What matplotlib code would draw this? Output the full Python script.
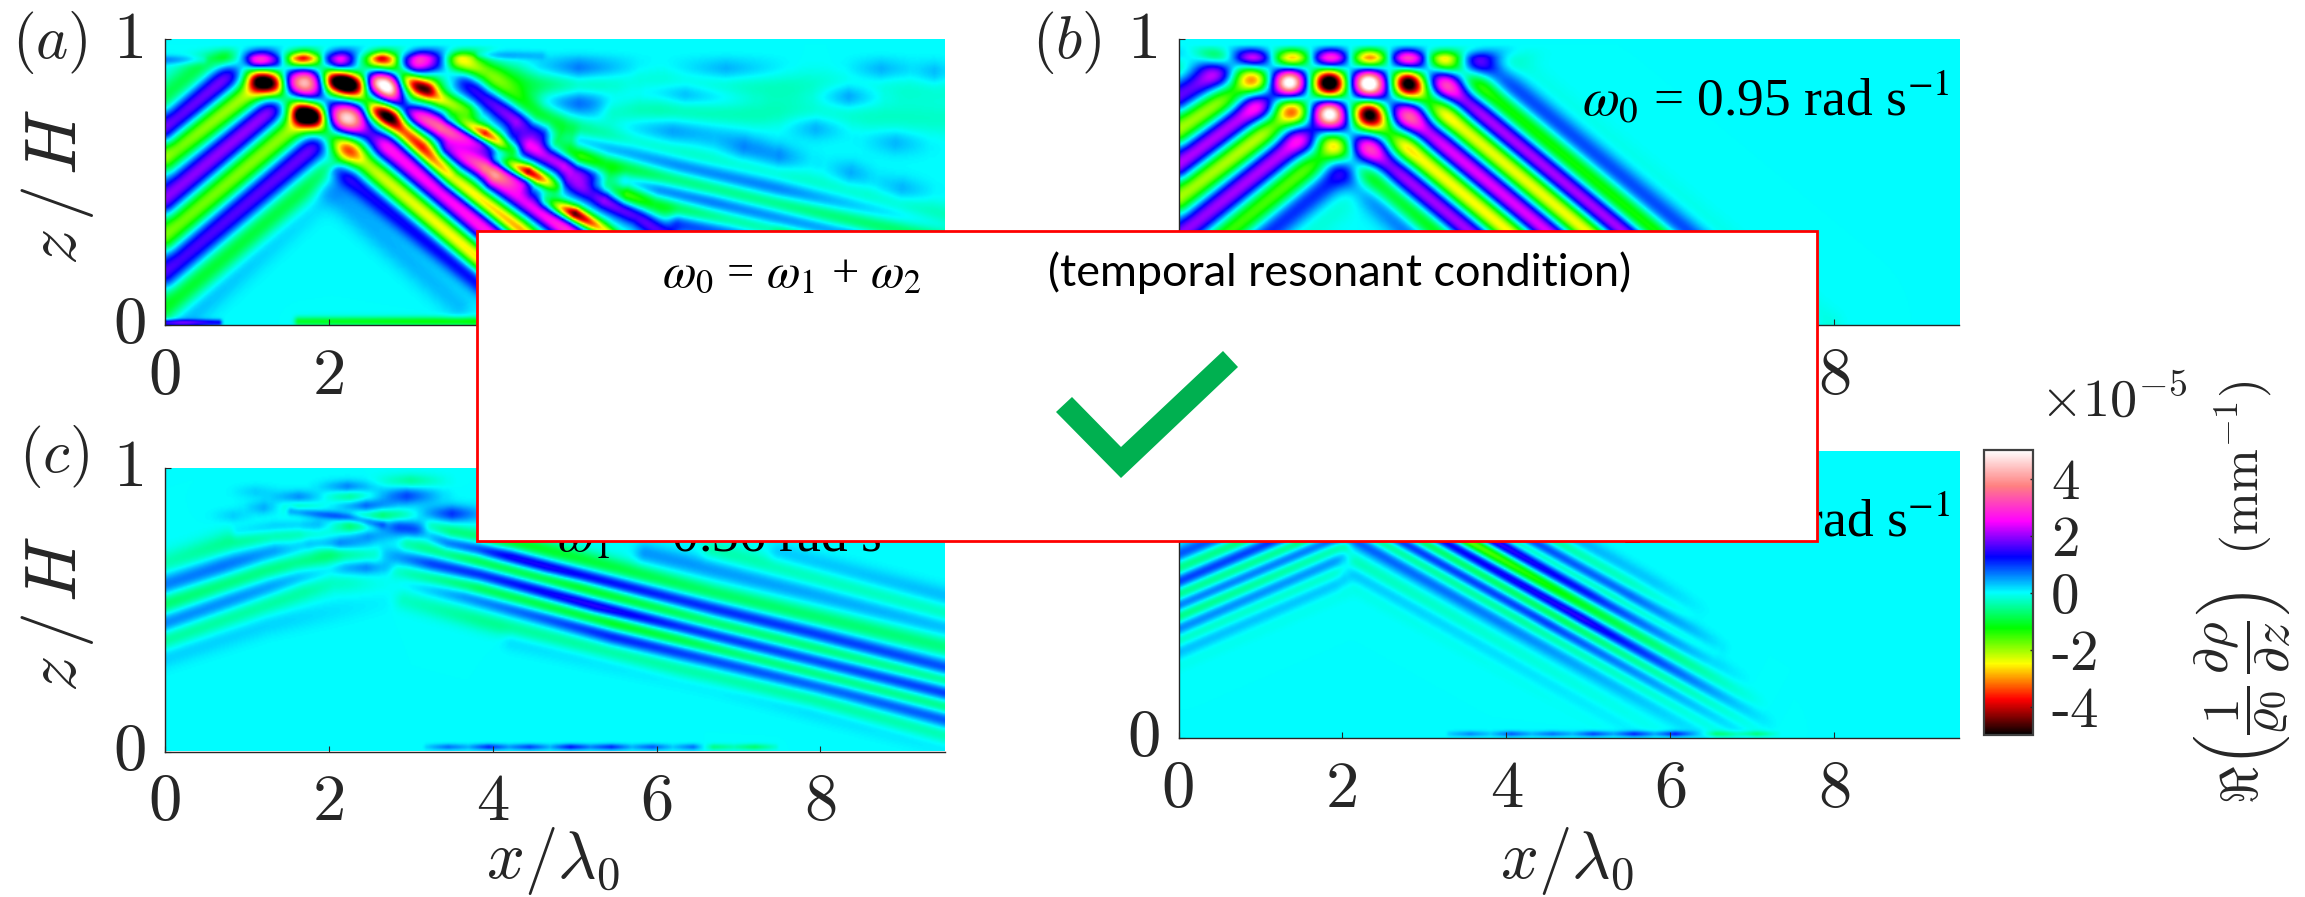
import numpy as np
import matplotlib
matplotlib.use("Agg")
import matplotlib.pyplot as plt
from matplotlib.colors import LinearSegmentedColormap
from matplotlib.patches import Rectangle, Polygon
from matplotlib.transforms import ScaledTranslation


def cell(sigma, x0, x1, z0, z1, amp):
    return (sigma, [(x0, z0, .15 * amp), ((x0 + x1) / 2, (z0 + z1) / 2, amp), (x1, z1, .15 * amp)])


# ------------------------------------------------------------------ data
# Each field is described by stripes:
# (sigma, [(x/lambda0, z/H, amplitude in 1e-5 mm^-1), ...])
XTICKS = [0, 2, 4, 6, 8]
YTICKS = [0, 1]
XTICKLABELS = ["0", "2", "4", "6", "8"]
YTICKLABELS = ["0", "1"]
CBAR_TICKS = [-4, -2, 0, 2, 4]
CBAR_TICKLABELS = ["-4", "-2", "0", "2", "4"]
XMAX = 9.52
VMIN, VMAX = -5, 5
CMAP_COLORS = ["#000000", "#ff0000", "#ffff00", "#00ff00", "#00ffff",
               "#0000ff", "#ff00ff", "#ff8080", "#ffffff"]

PANEL_A = [
    # rising family
    (10, [(0, .79, -1.0), (.86, 1, -1.0)]),
    (10, [(0, .685, 2.0), (1.29, 1, 2.0)]),
    (10, [(0, .592, -2.0), (1.24, .86, -2.2), (1.85, 1, -2.2)]),
    (10, [(0, .44, 1.9), (2.30, 1, 2.2)]),
    (10, [(0, .312, -1.8), (2.82, 1, -2.2)]),
    (10, [(0, .184, 1.6), (3.35, 1, 2.0)]),
    (10, [(0, .056, -1.2), (3.87, 1, -1.3)]),
    (10, [(0, -.026, .5), (2.0, .5, .5), (4.21, 1, .2)]),
    # falling family
    (7, [(2.07, .569, .6), (2.11, .545, 1.3), (3.78, .161, 1.4), (4.47, 0, 1.4)]),
    (8, [(.77, .942, -1.2), (1.24, .848, -2.4), (1.73, .734, -2.6), (2.20, .621, -2.6),
         (2.44, .569, -2.2), (3.78, .242, -2.6), (4.80, 0, -2.6)]),
    (9, [(1.22, .924, 1.8), (1.69, .848, 2.4), (2.20, .726, 2.8), (2.60, .65, 2.5),
         (3.86, .347, 2.7), (5.28, 0, 2.7)]),
    (7, [(1.71, .936, -2.2), (2.17, .848, -2.6), (2.66, .741, -3.2), (3.13, .621, -3.8),
         (3.50, .51, -2.8), (4.31, .336, -3.0), (5.69, 0, -3.0)]),
    (7, [(2.17, .924, 1.8), (2.66, .843, 2.4), (2.93, .755, 2.4), (3.37, .691, 3.4),
         (3.86, .639, 2.3), (4.07, .61, .8)]),
    (6, [(2.66, .936, -2.2), (3.09, .837, -2.6), (3.37, .79, -2.4), (3.70, .749, -1.5),
         (3.86, .726, -.3)]),
    (8, [(3.13, .93, 1.7), (3.58, .883, 1.7), (3.90, .802, 1.8), (4.31, .72, 2.5),
         (4.63, .674, 1.8), (4.80, .65, .3)]),
    (9, [(3.60, .93, -1.5), (3.90, .872, -1.1), (4.53, .726, -1.9), (4.88, .685, -1.1),
         (5.69, .615, -.8), (7.32, .51, -.6), (9.52, .37, -.5)]),
    (5, [(3.50, .72, -1.2), (3.90, .668, -4.6), (4.23, .615, -1.6)]),
    (7, [(3.46, .615, 1.8), (3.90, .551, 3.4), (4.39, .499, 2.0), (4.51, .481, .5)]),
    (5, [(4.07, .575, -1.2), (4.43, .534, -4.8), (4.76, .487, -1.6)]),
    (5, [(4.67, .429, -1.2), (5.0, .388, -4.6), (5.33, .336, -2.5), (5.89, .208, -2.5)]),
    (7, [(4.02, .499, 1.8), (4.88, .336, 2.8), (6.1, .068, 2.8)]),
    (7, [(4.27, .65, 1.0), (4.43, .627, 2.2), (4.88, .563, 2.8), (5.24, .522, 1.6), (5.41, .505, .3)]),
    (7, [(4.94, .499, 1.4), (5.37, .441, 2.8), (5.77, .382, 1.8), (6.1, .312, 1.5)]),
    (8, [(4.76, .621, -1.2), (5.06, .58, -2.2), (5.37, .557, -1.3), (6.10, .51, -1.0),
         (7.32, .429, -.9), (9.52, .289, -.9)]),
    (8, [(5.28, .476, -1.2), (5.63, .452, -2.3), (5.98, .423, -1.3), (6.91, .365, -1.0), (8.13, .277, -1.0)]),
    (7, [(4.96, .65, .5), (5.06, .645, 1.2), (6.28, .557, 1.3), (7.5, .476, 1.2), (9.52, .347, .4)]),
    (7, [(5.63, .499, 1.2), (6.69, .429, 1.3), (7.91, .347, 1.0), (9.52, .242, .7)]),
    (7, [(6.28, .359, 1.2), (7.32, .301, 1.0)]),
    # cells where the two families reinforce
    (7, [(1.14, .85, -1.6), (1.34, .85, -1.6)]),
    (7, [(2.05, .85, -2.0), (2.35, .85, -2.0)]),
    (7, [(1.67, .735, -2.0), (1.83, .735, -2.0)]),
    (6, [(2.55, .745, -1.2), (2.8, .735, -1.2)]),
    (6, [(2.95, .85, -1.0), (3.2, .83, -1.0)]),
    (6, [(2.6, .85, 1.0), (2.75, .83, 1.0)]),
    (5, [(1.1, .925, 1.2), (1.34, .925, 1.2)]),
    (4, [(1.58, .935, -1.2), (1.84, .935, -1.2)]),
    (4, [(2.55, .935, -.8), (2.78, .935, -.8)]),
    # faint patches at upper right
    cell(9, 4.3, 5.8, .895, .895, .85),
    cell(9, 4.3, 5.8, .784, .784, .85),
    cell(8, 6.1, 7.6, .895, .895, .45),
    cell(8, 8.3, 9.2, .895, .895, .4),
    cell(8, 5.5, 7.2, .83, .785, .65),
    cell(8, 7.9, 8.8, .802, .802, .65),
    cell(9, 5.2, 7.2, .715, .655, .55),
    cell(8, 7.5, 8.4, .70, .69, .5),
    cell(8, 6.7, 7.45, .63, .61, .45),
    cell(8, 7.1, 7.9, .605, .575, .5),
    cell(8, 8.05, 8.7, .55, .51, .4),
    cell(8, 8.6, 9.4, .49, .455, .4),
    cell(8, 8.5, 9.35, .65, .63, .35),
    cell(8, 9.1, 9.7, .883, .883, .35),
    (10, [(3.66, .907, -1.0), (4.55, .843, -.9), (5.69, .843, -.4), (9.52, .825, -.2)]),
    (10, [(5.49, .75, -.55), (7.72, .738, -.3), (9.52, .72, -.25)]),
    (3, [(3.84, .948, .9), (4.59, .948, .4)]),
    (3, [(0, .93, .7), (.45, .93, .5)]),
    (9, [(1.99, .476, .4), (3.58, .068, .3)]),
    (2, [(0, .006, 1.6), (.65, .006, 1.2)]),
    (3, [(1.63, .01, -1.0), (3.78, .01, -1.2)]),
]

PANEL_B = [
    # rising family
    (9, [(0, .907, -.5), (.49, 1, -.5)]),
    (9, [(0, .802, 1.7), (1.14, 1, 1.7)]),
    (9, [(0, .685, -2.0), (1.61, 1, -2.0)]),
    (9, [(0, .563, 2.1), (2.04, 1, 2.4)]),
    (9, [(0, .446, -2.0), (2.52, 1, -2.5)]),
    (9, [(0, .312, 1.9), (2.99, 1, 2.5)]),
    (9, [(0, .184, -1.4), (3.48, 1, -2.1)]),
    (9, [(0, .068, 1.0), (3.93, 1, 1.2)]),
    (9, [(0, -.049, -.2), (4.37, 1, -.2)]),
    # falling family
    (9, [(-.11, 1, .6), (2.0, .55, 1.0), (4.09, 0, 1.0)]),
    (9, [(.29, 1, -1.6), (4.50, 0, -1.7)]),
    (9, [(.70, 1, 2.2), (4.91, 0, 2.3)]),
    (9, [(1.19, 1, -2.5), (5.39, 0, -2.7)]),
    (9, [(1.66, 1, 2.5), (5.86, 0, 2.5)]),
    (9, [(2.15, 1, -2.5), (6.35, 0, -2.7)]),
    (9, [(2.59, 1, 2.5), (6.80, 0, 2.5)]),
    (9, [(2.96, 1, -1.8), (7.16, 0, -1.9)]),
    (9, [(3.33, 1, 1.1), (7.53, 0, 1.1)]),
    (9, [(3.7, 1, -.15), (7.9, 0, -.15)]),
    # cells where the two families reinforce
    (7, [(1.34, .85, 1.1), (1.34, .849, 1.1)]),
    (7, [(2.30, .85, 1.1), (2.30, .849, 1.1)]),
    (7, [(1.83, .75, 1.1), (1.83, .749, 1.1)]),
    (7, [(1.83, .85, -1.2), (1.83, .849, -1.2)]),
    (7, [(2.78, .85, -1.2), (2.78, .849, -1.2)]),
    (7, [(2.32, .75, -1.2), (2.32, .749, -1.2)]),
]

PANEL_C = [
    (5, [(2.52, .806, .3), (2.85, .791, .8), (3.13, .777, .8), (3.46, .736, 1.1), (3.84, .714, 1.35),
         (4.65, .649, 1.5), (6.28, .532, 1.1), (7.91, .414, .95), (9.52, .291, .85)]),
    (5, [(2.72, .692, .3), (3.25, .66, .9), (3.84, .624, 1.1), (5.26, .508, 1.5),
         (6.28, .438, 1.15), (7.91, .32, .95), (9.52, .203, .95)]),
    (5, [(2.97, .589, .1), (3.66, .548, .6), (5.47, .403, 1.1), (6.69, .32, .95),
         (8.31, .203, .85), (9.52, .109, .8)]),
    (5, [(2.97, .728, -.4), (3.84, .667, -1.0), (5.06, .579, -1.2), (6.69, .45, -.85), (9.52, .25, -.65)]),
    (5, [(2.85, .636, -.3), (3.84, .572, -.9), (5.47, .45, -1.25), (7.09, .332, -.85), (9.52, .156, -.65)]),
    (6, [(3.25, .777, -.8), (3.82, .742, -.9), (4.25, .736, -1.0), (6.69, .555, -.7), (9.52, .367, -.55)]),
    (6, [(5.87, .696, .45), (7.91, .555, .4), (9.52, .438, .35)]),
    (6, [(6.69, .708, -.35), (9.52, .485, -.35)]),
    (6, [(7.5, .696, .25), (9.52, .543, .3)]),
    (6, [(2.93, .531, -.25), (3.84, .461, -.45), (6.28, .285, -.55), (7.91, .18, -.55), (9.52, .05, -.5)]),
    (6, [(4.25, .391, .2), (6.69, .238, .25), (9.52, .027, .25)]),
    # cells under the surface
    cell(4, 1.85, 2.6, .93, .93, .6),
    cell(5, 2.5, 3.4, .90, .90, .8),
    cell(4, 1.25, 2.0, .894, .894, .55),
    cell(4, .8, 1.4, .915, .915, .2),
    cell(4, 2.05, 2.85, .865, .865, .7),
    cell(4, .95, 1.45, .859, .859, .35),
    cell(5, 3.05, 3.95, .836, .836, .9),
    cell(4, .55, 1.1, .83, .83, .2),
    (2.6, [(1.54, .847, .5), (2.24, .824, .8), (2.64, .80, .5)]),
    (4, [(.89, .771, .3), (1.34, .789, .45), (1.87, .795, .6), (2.1, .795, .2)]),
    cell(4, 2.1, 2.85, .759, .759, .45),
    cell(4, 1.65, 2.6, .733, .726, .7),
    cell(4, 2.05, 2.85, .648, .648, .45),
    cell(4, 1.85, 2.65, .90, .90, -.55),
    cell(4, 1.3, 1.95, .865, .865, -.4),
    cell(4, 2.2, 3.1, .83, .83, -.8),
    cell(4, 1.8, 2.7, .791, .791, -.6),
    cell(4, 2.55, 3.45, .953, .953, -.45),
    # rising stripes
    (7, [(0, .583, .65), (.69, .648, .7), (1.34, .707, .6), (1.7, .72, .3)]),
    (7, [(0, .448, .7), (.81, .531, .7), (1.63, .613, .6), (2.2, .642, .45), (2.64, .642, .1)]),
    (7, [(0, .66, -.35), (.81, .736, -.5), (1.63, .771, -.55), (2.0, .775, -.1)]),
    (7, [(0, .519, -.75), (1.22, .636, -.7), (2.03, .689, -.7), (2.52, .689, -.3)]),
    (7, [(0, .396, -.6), (1.02, .501, -.55), (2.03, .607, -.5), (2.6, .601, -.1)]),
    (7, [(0, .337, .25), (1.22, .448, .2), (2.64, .525, .05)]),
    (1.8, [(3.2, .012, .2), (3.45, .012, .6), (3.7, .012, .3), (3.95, .012, .9), (4.2, .012, .4),
           (4.45, .012, .8), (4.7, .012, .3), (4.95, .012, 1.0), (5.2, .012, .5), (5.45, .012, .9),
           (5.7, .012, .3), (5.95, .012, .7), (6.2, .012, .2), (6.45, .012, .6), (6.7, .012, -.5),
           (6.95, .012, -.3), (7.2, .012, -.6), (7.45, .012, -.2)]),
]

PANEL_D = [
    (5, [(1.92, .724, .8), (4.0, .391, .6), (6.45, 0, .1)]),
    (5, [(2.23, .724, -.8), (4.2, .409, -.8), (6.76, 0, -.1)]),
    (5, [(2.45, .724, 1.3), (4.5, .396, 1.3), (6.9, .012, .1)]),
    (5, [(2.72, .724, -1.2), (4.7, .407, -1.3), (7.1, .023, -.05)]),
    (5, [(2.96, .724, 1.5), (4.9, .414, 1.7), (6.8, .11, .3), (7.3, .03, 0)]),
    (5, [(3.29, .724, -1.9), (4.6, .514, -1.4), (6.6, .194, -.3), (7.2, .098, 0)]),
    (5, [(3.61, .724, 1.9), (5.0, .502, 1.4), (6.5, .262, .2), (7.0, .182, 0)]),
    (5, [(3.84, .724, -1.2), (5.3, .49, -1.0), (6.5, .298, -.1)]),
    (5, [(4.04, .724, 1.3), (5.5, .49, 1.0), (6.6, .314, .1)]),
    (5, [(4.32, .724, -.6), (5.5, .535, -.4), (6.3, .407, 0)]),
    (5, [(4.63, .724, .4), (5.8, .537, .25), (6.5, .425, 0)]),
    (5, [(2.05, .626, -.35), (5.9, .01, -.05)]),
    (5, [(2.05, .583, .3), (5.7, 0, .05)]),
    (5, [(2.05, .538, -.12), (5.4, 0, -.02)]),
    # rising stripes
    (5, [(0, .638, .8), (.52, .70, .8)]),
    (5, [(0, .591, -.7), (.90, .70, -.7)]),
    (5, [(0, .545, 1.0), (1.28, .70, 1.0)]),
    (5, [(0, .498, -.8), (1.65, .70, -.8)]),
    (5, [(0, .463, .9), (1.94, .70, .9)]),
    (5, [(0, .423, -.8), (1.99, .668, -.6)]),
    (5, [(0, .382, .7), (1.99, .627, .6)]),
    (5, [(0, .341, -.4), (1.99, .587, -.35)]),
    (5, [(0, .301, .35), (1.99, .546, .3)]),
    (5, [(0, .26, -.1), (1.99, .505, -.1)]),
    (1.8, [(3.3, .012, .2), (3.55, .012, .5), (3.8, .012, .2), (4.05, .012, .7), (4.3, .012, .3),
           (4.55, .012, .6), (4.8, .012, .3), (5.05, .012, .8), (5.3, .012, .4), (5.55, .012, .9),
           (5.8, .012, .4), (6.05, .012, 1.0), (6.3, .012, .2), (6.55, .012, -.5), (6.8, .012, -.3),
           (7.05, .012, -.5), (7.3, .012, -.1)]),
]

TOP_FADE_Z = [.90, .936, .965, .983]
TOP_FADE_F = [1.0, .8, .25, 0.0]

# ------------------------------------------------------------------ layout
W, H = 2305, 897
plt.rcParams["mathtext.fontset"] = "cm"
plt.rcParams["font.family"] = ["cmr10", "DejaVu Sans"]
plt.rcParams["axes.formatter.use_mathtext"] = True
DARK = "#262626"

fig = plt.figure(figsize=(W / 100, H / 100), dpi=100)
fig.patch.set_facecolor("white")


def axpx(l, t, r, b):
    return fig.add_axes([l / W, 1 - b / H, (r - l) / W, (b - t) / H])


def fx(px):
    return px / W


def fy(py):
    return 1 - py / H


def render(ridges, fade, width, gain):
    xs = np.linspace(0, XMAX, 560)
    zs = np.linspace(0, 1, 210)
    X, Z = np.meshgrid(xs, zs)
    px, pz = X * 82, Z * 286
    total = np.zeros_like(X)
    for sigma, nodes in ridges:
        n = np.array(nodes, float)
        best_d = np.full_like(X, np.inf)
        best_a = np.zeros_like(X)
        for (x0, z0, a0), (x1, z1, a1) in zip(n[:-1], n[1:]):
            ax_, az_ = x0 * 82, z0 * 286
            dx, dz = (x1 - x0) * 82, (z1 - z0) * 286
            t = ((px - ax_) * dx + (pz - az_) * dz) / (dx * dx + dz * dz)
            t = np.clip(t, 0, 1)
            d = (px - ax_ - t * dx) ** 2 + (pz - az_ - t * dz) ** 2
            mask = d < best_d
            best_d[mask] = d[mask]
            best_a[mask] = (a0 + t * (a1 - a0))[mask]
        total += best_a * np.exp(-best_d / (2 * (sigma * width) ** 2))
    if fade:
        total *= np.interp(Z, TOP_FADE_Z, TOP_FADE_F)
    return total * gain


cmap = LinearSegmentedColormap.from_list("field", CMAP_COLORS, N=512)


def panel(box, ridges, fade, width, gain):
    ax = axpx(*box)
    im = ax.imshow(render(ridges, fade, width, gain), origin="lower", extent=[0, XMAX, 0, 1], aspect="auto",
                   cmap=cmap, vmin=VMIN, vmax=VMAX, interpolation="bilinear")
    for s in ("top", "right"):
        ax.spines[s].set_visible(False)
    for s in ("left", "bottom"):
        ax.spines[s].set_color(DARK)
        ax.spines[s].set_linewidth(1.0)
    ax.set_xticks(XTICKS, labels=XTICKLABELS)
    ax.set_yticks(YTICKS, labels=YTICKLABELS)
    ax.tick_params(axis="both", direction="in", length=4.5, width=.8, color=DARK, labelcolor=DARK, labelsize=48)
    ax.tick_params(axis="x", pad=16)
    ax.tick_params(axis="y", pad=13)
    offset = ScaledTranslation(0, 5 / 100, fig.dpi_scale_trans)
    for lab in ax.get_yticklabels():
        lab.set_transform(lab.get_transform() + offset)
    return ax, im


ax_a, im = panel((165, 39.5, 945, 325), PANEL_A, True, 1.12, 1.05)
ax_b, _ = panel((1178.5, 39.5, 1959, 325), PANEL_B, True, 1.15, 1.05)
ax_c, _ = panel((165, 467.5, 945, 751.5), PANEL_C, False, 1.25, 1.15)
ax_d, _ = panel((1178.5, 451, 1959, 738), PANEL_D, False, 1.15, 1.1)

# axis labels
for yc in (187, 614):
    fig.text(fx(57), fy(yc), r"$z\,/\,H$", rotation=90, ha="center", va="center", fontsize=52, color=DARK)
for xc in (553, 1567):
    fig.text(fx(xc), fy(861), r"$x/\lambda_0$", ha="center", va="center", fontsize=48, color=DARK)

# panel letters
for xl, yc, txt in ((12, 42, r"$(a)$"), (1032, 42, r"$(b)$"), (19, 457, r"$(c)$")):
    fig.text(fx(xl), fy(yc), txt, ha="left", va="center", fontsize=44, color=DARK)

# frequencies
FREQ = dict(family=["Liberation Serif"], math_fontfamily="stix", color="black", fontsize=38.5, ha="right", va="baseline")
fig.text(fx(1950), fy(115), r"$\omega_0$ = 0.95 rad s$^{-1}$", **FREQ)
fig.text(fx(925), fy(552), r"$\omega_1$ = 0.36 rad s$^{-1}$", **FREQ)
fig.text(fx(1950), fy(537), r"$\omega_2$ = 0.59 rad s$^{-1}$", **FREQ)

# colour bar
cax = axpx(1984, 450, 2033, 735)
cb = fig.colorbar(im, cax=cax)
cb.set_ticks(CBAR_TICKS, labels=CBAR_TICKLABELS)
cb.outline.set_edgecolor("#404040")
cb.outline.set_linewidth(1.6)
cax.tick_params(axis="y", direction="in", length=2.5, width=1, color=DARK, labelcolor=DARK, labelsize=41, pad=13)
fig.text(fx(2040), fy(400), r"$\times 10^{-5}$", ha="left", va="center", fontsize=39, color=DARK)
fig.text(fx(2243), fy(592), r"$\Re\left(\dfrac{1}{\varrho_0}\,\dfrac{\partial\rho}{\partial z}\right)\ \ (\mathrm{mm}^{-1})$",
         rotation=90, ha="center", va="center", fontsize=37, color=DARK)

# overlay box
fig.add_artist(Rectangle((fx(477), fy(540.5)), (1817 - 477) / W, (540.5 - 231) / H, transform=fig.transFigure,
                         facecolor="white", edgecolor="#ff0000", linewidth=2.0, zorder=10))
fig.text(fx(662), fy(286), r"$\omega_0$ = $\omega_1$ + $\omega_2$", family=["Liberation Serif"], math_fontfamily="stix",
         fontsize=35, color="black", ha="left", va="baseline", zorder=11)
fig.text(fx(1048), fy(286), "(temporal resonant condition)", family=["Lato"], fontsize=32.4,
         color="black", ha="left", va="baseline", zorder=11)
CHECK_X = [1223, 1238, 1121, 1056, 1072, 1121]
CHECK_Y = [351, 367, 478, 412, 397, 447]
fig.add_artist(Polygon([(fx(a), fy(b)) for a, b in zip(CHECK_X, CHECK_Y)], closed=True, transform=fig.transFigure,
                       facecolor="#00b050", edgecolor="none", zorder=11))

fig.savefig("out.png", dpi=100)
